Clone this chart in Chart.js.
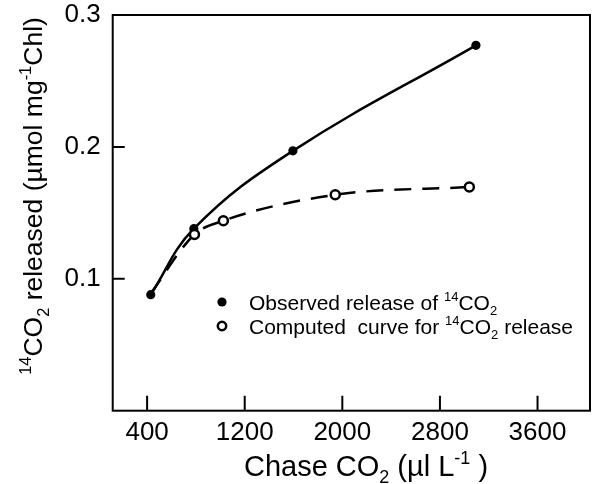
<!DOCTYPE html>
<html><head><meta charset="utf-8">
<script src="https://cdn.jsdelivr.net/npm/chart.js@4/dist/chart.umd.min.js"></script>
<style>html,body{margin:0;padding:0;background:#fff}#wrap{width:597px;height:484px;position:relative}</style>
</head><body><div id="wrap"><canvas id="c" width="597" height="484"></canvas></div>
<script>
// ---- data ----
const observedX = [430, 783, 1595, 3095];
const observedY = [0.088, 0.138, 0.197, 0.277];
const computedX = [430, 788, 1025, 1942, 3041];
const computedY = [0.089, 0.1336, 0.144, 0.1637, 0.1696];
const xTicks = [400, 1200, 2000, 2800, 3600];
const yTicks = [0.1, 0.2, 0.3];
const xRange = [118, 4030];
const yRange = [0, 0.3];
const xTitleParts = [{t:'Chase CO'},{t:'2',sub:true},{t:' (\u00b5l L'},{t:'-1',sup:true},{t:' )'}];
const yTitleParts = [{t:'14',sup:true},{t:'CO'},{t:'2',sub:true},{t:' released (\u00b5mol mg'},{t:'-1',sup:true},{t:'Chl)'}];
const legendObserved = [{t:'Observed release of '},{t:'14',sup:true},{t:'CO'},{t:'2',sub:true}];
const legendComputed = [{t:'Computed  curve for '},{t:'14',sup:true},{t:'CO'},{t:'2',sub:true},{t:' release'}];

const FONT = '"Liberation Sans", Arial, Helvetica, sans-serif';

function richWidth(ctx, parts, size){
  let w = 0;
  for (const p of parts){
    const s = (p.sub||p.sup) ? size*0.62 : size;
    ctx.font = s + 'px ' + FONT;
    w += ctx.measureText(p.t).width;
  }
  return w;
}
function drawRich(ctx, parts, x, y, size){
  let cx = x;
  ctx.textBaseline = 'alphabetic';
  ctx.textAlign = 'left';
  for (const p of parts){
    const s = (p.sub||p.sup) ? size*0.62 : size;
    const dy = p.sub ? size*0.25 : (p.sup ? -size*0.42 : 0);
    ctx.font = s + 'px ' + FONT;
    ctx.fillText(p.t, cx, y + dy);
    cx += ctx.measureText(p.t).width;
  }
}

const deco = {
  id: 'deco',
  afterDraw(chart){
    const ctx = chart.ctx;
    const a = chart.chartArea;
    const xs = chart.scales.x, ys = chart.scales.y;
    ctx.save();
    ctx.strokeStyle = '#000';
    ctx.fillStyle = '#000';
    ctx.lineWidth = 2;
    ctx.strokeRect(a.left, a.top, a.right - a.left, a.bottom - a.top);
    // inward tick marks
    ctx.beginPath();
    for (const v of xTicks){
      const px = xs.getPixelForValue(v);
      ctx.moveTo(px, a.bottom); ctx.lineTo(px, a.bottom - 15);
    }
    for (const v of yTicks){
      if (v >= yRange[1]) continue;
      const py = ys.getPixelForValue(v);
      ctx.moveTo(a.left, py); ctx.lineTo(a.left + 12, py);
    }
    ctx.stroke();
    // x title
    const ts = 29;
    const xw = richWidth(ctx, xTitleParts, ts);
    drawRich(ctx, xTitleParts, 366 - xw/2, 476, ts);
    // y title
    const yw = richWidth(ctx, yTitleParts, 26.5);
    ctx.save();
    ctx.translate(42, 196);
    ctx.rotate(-Math.PI/2);
    drawRich(ctx, yTitleParts, -yw/2, 0, 26.5);
    ctx.restore();
    // legend
    ctx.beginPath();
    ctx.arc(222, 302, 4.6, 0, Math.PI*2);
    ctx.fill();
    ctx.beginPath();
    ctx.arc(222, 326, 4.2, 0, Math.PI*2);
    ctx.fillStyle = '#fff'; ctx.fill();
    ctx.lineWidth = 2.5; ctx.stroke();
    ctx.fillStyle = '#000';
    drawRich(ctx, legendObserved, 249, 310, 21);
    drawRich(ctx, legendComputed, 249, 334, 21);
    ctx.restore();
  }
};

new Chart(document.getElementById('c'), {
  type: 'line',
  data: {
    datasets: [
      {
        label: 'Computed curve',
        data: computedX.map((x, i) => ({x, y: computedY[i]})),
        borderColor: '#000', borderWidth: 2.5, borderDash: [17, 11],
        pointRadius: c => c.dataIndex === 0 ? 0 : 4.5,
        pointBackgroundColor: '#fff', pointBorderColor: '#000', pointBorderWidth: 2.5,
        cubicInterpolationMode: 'monotone', fill: false, order: 0
      },
      {
        label: 'Observed release',
        data: observedX.map((x, i) => ({x, y: observedY[i]})),
        borderColor: '#000', borderWidth: 2.5,
        pointRadius: 4.6, pointBackgroundColor: '#000', pointBorderColor: '#000', pointBorderWidth: 0,
        tension: 0.4, fill: false, order: 1
      }
    ]
  },
  options: {
    responsive: false, animation: false, devicePixelRatio: 1,
    layout: {padding: {top: 15, right: 3.7, left: 0, bottom: 0}},
    plugins: {legend: {display: false}, tooltip: {enabled: false}, title: {display: false}},
    scales: {
      x: {
        type: 'linear', min: xRange[0], max: xRange[1],
        afterBuildTicks: s => { s.ticks = xTicks.map(v => ({value: v})); },
        afterFit: s => { s.height = 73.3; s.paddingLeft = 0; s.paddingRight = 0; },
        grid: {display: false, drawTicks: false},
        border: {display: false},
        ticks: {font: {family: FONT, size: 26}, color: '#000', padding: 7, maxRotation: 0, autoSkip: false,
                callback: v => String(v)}
      },
      y: {
        type: 'linear', min: yRange[0], max: yRange[1],
        afterBuildTicks: s => { s.ticks = yTicks.map(v => ({value: v})); },
        afterFit: s => { s.width = 112.7; s.paddingTop = 0; s.paddingBottom = 0; },
        grid: {display: false, drawTicks: false},
        border: {display: false},
        ticks: {font: {family: FONT, size: 26}, color: '#000', padding: 12, autoSkip: false,
                callback: v => Number(v).toFixed(1)}
      }
    }
  },
  plugins: [deco]
});
</script>
</body></html>
